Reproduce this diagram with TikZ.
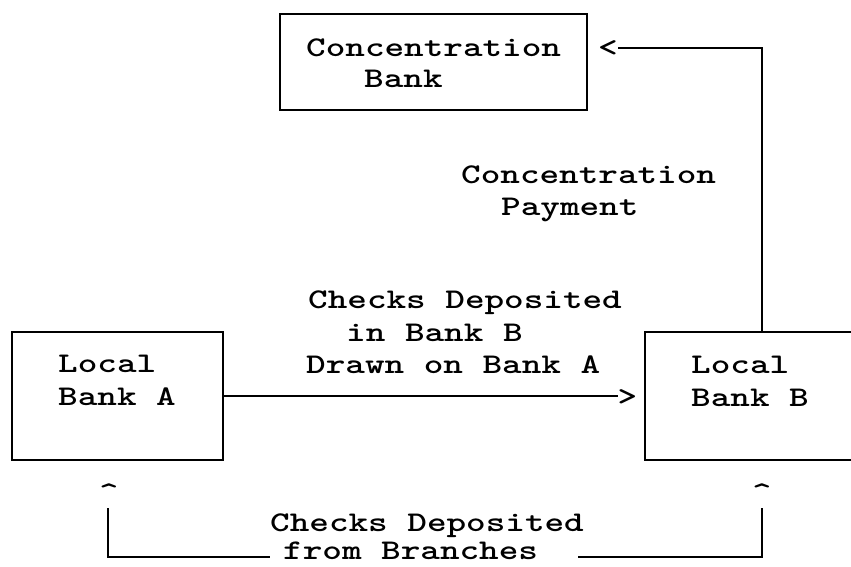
\documentclass[tikz,border=0pt]{standalone}
\usepackage{graphicx}
\newcommand\twtext[1]{\scalebox{1.31}[1]{#1}}
\begin{document}
\begin{tikzpicture}[x=1pt,y=-1pt,
  box/.style={draw, line width=1.5pt, inner sep=0pt},
  txt/.style={inner sep=0pt, anchor=base west, font=\fontsize{28.5}{32}\selectfont\ttfamily\bfseries},
  tipc/.style={inner sep=0pt, anchor=base, font=\fontsize{28.5}{32}\selectfont\ttfamily\bfseries},
  conn/.style={line width=1.5pt}]
\useasboundingbox (0,0) rectangle (851,566);
\clip (0,0) rectangle (851,566);
% boxes
\node[box, minimum width=307pt, minimum height=96pt] (cb) at (433.5,62) {};
\node[box, minimum width=211pt, minimum height=128pt] (la) at (117.5,396) {};
\node[box, minimum width=234pt, minimum height=128pt] (lb) at (762,396) {};
% box texts
\node[txt] (cbt1) at (306,56) {\twtext{Concentration}};
\node[txt] (cbt2) at (364,87) {\twtext{Bank}};
\node[txt] (lat1) at (58,372) {\twtext{Local}};
\node[txt] (lat2) at (58,405) {\twtext{Bank A}};
\node[txt] (lbt1) at (691,373) {\twtext{Local}};
\node[txt] (lbt2) at (691,406) {\twtext{Bank B}};
% labels
\node[txt] (cp1) at (461,183) {\twtext{Concentration}};
\node[txt] (cp2) at (501,215) {\twtext{Payment}};
\node[txt] (md1) at (308,308) {\twtext{Checks Deposited}};
\node[txt] (md2) at (346,341) {\twtext{in Bank B}};
\node[txt] (md3) at (306,373) {\twtext{Drawn on Bank A}};
\node[txt] (bt1) at (270,531) {\twtext{Checks Deposited}};
\node[txt] (bt2) at (283,559) {\twtext{from Branches}};
% typed arrow tips
\node[tipc] (lt) at (608,56) {\twtext{<}};
\node[tipc] (gt) at (627.5,405) {\twtext{>}};
\node[tipc] (ca) at (109,501) {\twtext{\textasciicircum}};
\node[tipc] (cb2) at (762,501) {\twtext{\textasciicircum}};
% connector ends
\coordinate (ba) at (108,508);
\coordinate (bb) at (762,508);
\coordinate (bl) at (270,557);
\coordinate (br) at (578,557);
% connectors
\draw[conn] (lb.north) |- (lt.east);
\draw[conn] (la.east) -- (la.east -| gt.west);
\draw[conn] (ba) |- (bl);
\draw[conn] (bb) |- (br);
\end{tikzpicture}
\end{document}
